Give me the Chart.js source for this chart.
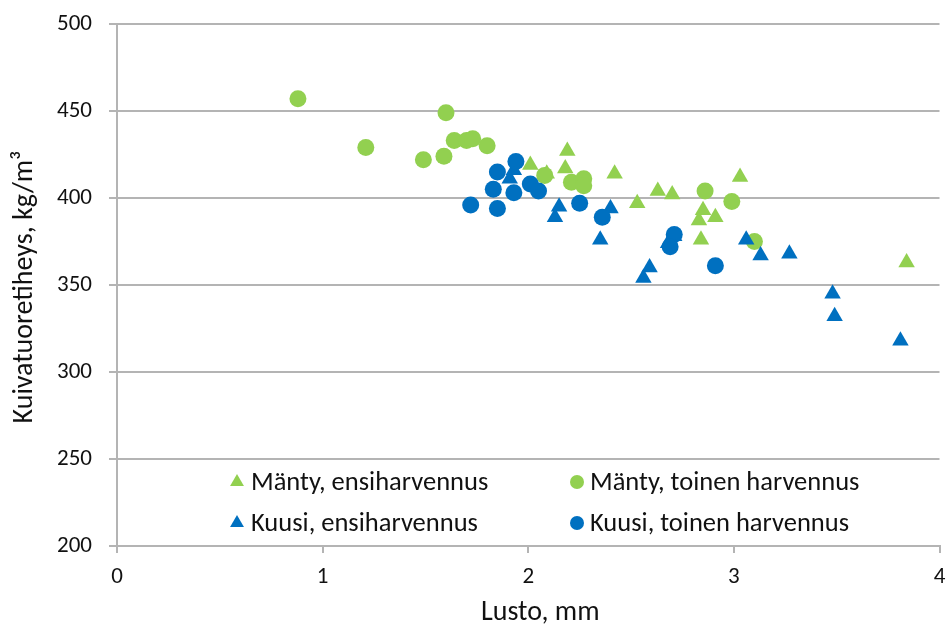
<!DOCTYPE html>
<html><head><meta charset="utf-8">
<script src="https://cdn.jsdelivr.net/npm/chart.js@4/dist/chart.umd.min.js"></script>
<style>html,body{margin:0;padding:0;background:#fff}#wrap{width:949px;height:629px}</style>
</head><body><div id="wrap"><canvas id="c" width="949" height="629"></canvas></div>
<script>
const xTicks = [0, 1, 2, 3, 4];
const yTicks = [200, 250, 300, 350, 400, 450, 500];
const xTitle = 'Lusto, mm';
const yTitle = 'Kuivatuoretiheys, kg/m³';
const seriesNames = ['Mänty, ensiharvennus', 'Mänty, toinen harvennus', 'Kuusi, ensiharvennus', 'Kuusi, toinen harvennus'];

const mantyEnsiX = [2.01, 2.19, 2.18, 2.09, 2.42, 2.53, 2.63, 2.70, 3.03, 2.85, 2.91, 2.83, 2.84, 3.84];
const mantyEnsiY = [419, 427, 417, 414, 414, 397, 404, 402, 412, 393, 389, 387, 376, 363];
const mantyToinenX = [0.88, 1.21, 1.49, 1.60, 1.59, 1.64, 1.70, 1.73, 1.80, 2.08, 2.21, 2.27, 2.27, 2.86, 2.99, 3.10];
const mantyToinenY = [457, 429, 422, 449, 424, 433, 433, 434, 430, 413, 409, 411, 407, 404, 398, 375];
const kuusiEnsiX = [1.93, 1.91, 2.15, 2.13, 2.40, 2.35, 2.59, 2.56, 2.71, 2.68, 3.06, 3.13, 3.27, 3.48, 3.49, 3.81];
const kuusiEnsiY = [416, 411, 395, 389, 394, 376, 360, 354, 378, 374, 376, 367, 368, 345, 332, 318];
const kuusiToinenX = [1.94, 1.85, 1.83, 1.93, 2.01, 2.05, 1.72, 1.85, 2.25, 2.36, 2.71, 2.69, 2.91];
const kuusiToinenY = [421, 415, 405, 403, 408, 404, 396, 394, 397, 389, 379, 372, 361];

const GREEN = '#92D050', BLUE = '#0070C0', GRID = '#b4b4b4', TXT = '#111111';
const FONT = 'Carlito, Lato, "Open Sans", sans-serif';

function pts(xs, ys) { return xs.map((x, i) => ({x: x, y: ys[i]})); }

const series = [
  {label: seriesNames[0], data: pts(mantyEnsiX, mantyEnsiY), color: GREEN, style: 'triangle', order: 3},
  {label: seriesNames[1], data: pts(mantyToinenX, mantyToinenY), color: GREEN, style: 'circle', order: 2},
  {label: seriesNames[2], data: pts(kuusiEnsiX, kuusiEnsiY), color: BLUE, style: 'triangle', order: 1},
  {label: seriesNames[3], data: pts(kuusiToinenX, kuusiToinenY), color: BLUE, style: 'circle', order: 0}
];

function marker(ctx, style, x, y, r, color) {
  ctx.fillStyle = color;
  ctx.beginPath();
  if (style === 'circle') {
    ctx.arc(x, y, r, 0, Math.PI * 2);
  } else {
    ctx.moveTo(x, y - r);
    ctx.lineTo(x + r * Math.sqrt(3) / 2, y + r / 2);
    ctx.lineTo(x - r * Math.sqrt(3) / 2, y + r / 2);
    ctx.closePath();
  }
  ctx.fill();
}

const overlay = {
  id: 'overlay',
  afterDraw(chart) {
    const ctx = chart.ctx, a = chart.chartArea;
    ctx.save();
    // legend
    ctx.font = '26.5px ' + FONT;
    ctx.textBaseline = 'middle';
    ctx.textAlign = 'left';
    const cols = [a.left + 120, a.left + 460];
    const rows = [a.top + 458, a.top + 499];
    series.forEach((s, i) => {
      const cx = cols[i % 2], cy = rows[Math.floor(i / 2)];
      marker(ctx, s.style, cx, cy, s.style === 'circle' ? 7 : 8, s.color);
      ctx.fillStyle = TXT;
      ctx.fillText(s.label, cx + (s.style === 'circle' ? 13 : 14), cy + 1);
    });
    // axis titles
    ctx.font = '28px ' + FONT;
    ctx.textAlign = 'center';
    ctx.fillText(xTitle, (a.left + a.right) / 2 + 12, 613);
    ctx.translate(25, 287);
    ctx.rotate(-Math.PI / 2);
    ctx.fillText(yTitle, 0, 0);
    ctx.restore();
  }
};

new Chart(document.getElementById('c'), {
  type: 'scatter',
  data: {
    datasets: series.map(s => ({
      label: s.label, data: s.data, order: s.order,
      pointStyle: s.style, backgroundColor: s.color, borderColor: s.color,
      pointRadius: s.style === 'circle' ? 8.5 : 9.5, pointBorderWidth: 0, pointHoverRadius: 9
    }))
  },
  options: {
    responsive: false, animation: false,
    layout: {padding: {top: 24, right: 9, left: 0, bottom: 0}},
    plugins: {legend: {display: false}, tooltip: {enabled: false}},
    scales: {
      x: {
        type: 'linear', min: xTicks[0], max: xTicks[xTicks.length - 1],
        afterBuildTicks(s) { s.ticks = xTicks.map(v => ({value: v})); },
        afterFit(s) { s.height = 83; s.paddingLeft = 0; s.paddingRight = 0; },
        grid: {drawOnChartArea: false, drawTicks: true, tickLength: 7, color: GRID, lineWidth: 2},
        border: {display: true, color: GRID, width: 2},
        ticks: {font: {family: FONT, size: 23}, color: TXT, padding: 10, maxRotation: 0}
      },
      y: {
        type: 'linear', min: yTicks[0], max: yTicks[yTicks.length - 1],
        afterBuildTicks(s) { s.ticks = yTicks.map(v => ({value: v})); },
        afterFit(s) { s.width = 117; s.paddingTop = 0; s.paddingBottom = 0; },
        grid: {color: GRID, lineWidth: 2, tickLength: 8, drawTicks: true},
        border: {display: true, color: GRID, width: 2},
        ticks: {font: {family: FONT, size: 23}, color: TXT, padding: 17}
      }
    }
  },
  plugins: [overlay]
});
</script></body></html>
